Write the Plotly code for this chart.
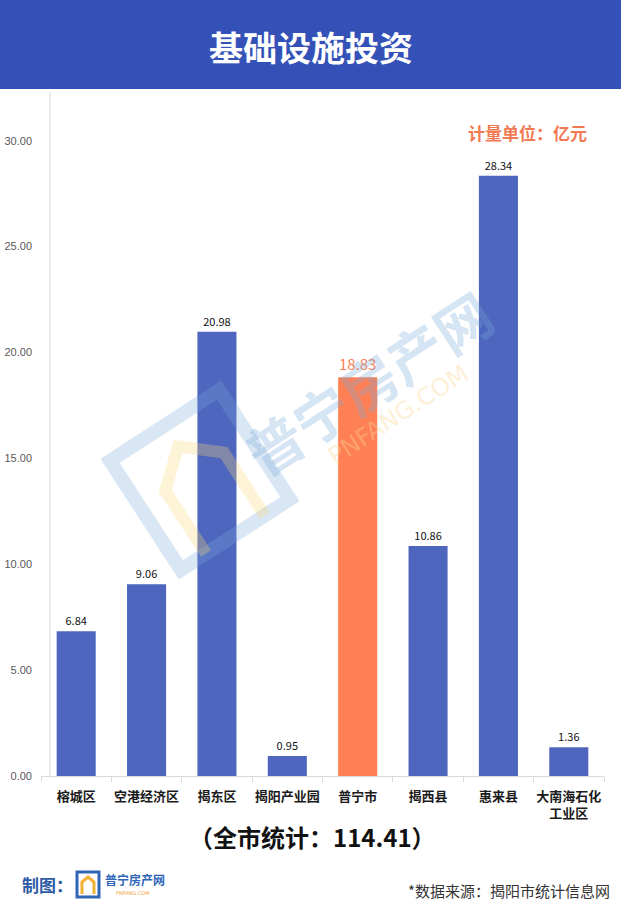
import math
import plotly.graph_objects as go

categories = ["榕城区", "空港经济区", "揭东区", "揭阳产业园", "普宁市", "揭西县", "惠来县", "大南海石化<br>工业区"]
values = [6.84, 9.06, 20.98, 0.95, 18.83, 10.86, 28.34, 1.36]
highlight = "普宁市"
tick_vals = [0, 5, 10, 15, 20, 25, 30]
tick_text = ["0.00", "5.00", "10.00", "15.00", "20.00", "25.00", "30.00"]
title_text = "基础设施投资"
unit_text = "计量单位：亿元"
total_text = "（全市统计：114.41）"
source_text = "*数据来源：揭阳市统计信息网"

BLUE = "#4F66BE"
ORANGE = "#FF8055"
FONT = "Noto Sans CJK SC"

colors = [ORANGE if c == highlight else BLUE for c in categories]
labels = [f"{v:.2f}" for v in values]
text_colors = [ORANGE if c == highlight else "#111111" for c in categories]
text_sizes = [15 if c == highlight else 11 for c in categories]

fig = go.Figure()
fig.add_trace(go.Bar(
    x=categories, y=values, marker_color=colors, marker_line_width=0,
    text=labels, textposition="outside", cliponaxis=False,
    textfont=dict(color=text_colors, size=text_sizes, family=FONT),
    hoverinfo="skip",
))

W, H = 621, 923
L, R, T, B = 41, 17, 92, 147

def px(x):
    return (x - L) / (W - L - R)

def py(y):
    return (H - B - y) / (H - T - B)

fig.update_layout(
    width=W, height=H,
    margin=dict(l=L, r=R, t=T, b=B, autoexpand=False),
    paper_bgcolor="white", plot_bgcolor="white",
    bargap=0.445, showlegend=False,
    font=dict(family=FONT),
    xaxis=dict(
        showgrid=False, showline=True, linecolor="#D9D9D9", linewidth=1,
        ticks="outside", tickson="boundaries", ticklen=5, tickcolor="#D9D9D9",
        tickangle=0, automargin=False, ticklabelstandoff=8,
        tickfont=dict(size=13, color="#1a1a1a", family=FONT, weight=600),
    ),
    yaxis=dict(
        range=[0, 32.3], showgrid=False, zeroline=False, showline=False,
        tickvals=tick_vals, ticktext=tick_text, automargin=False,
        tickfont=dict(size=11, color="#595959", family="Liberation Sans"),
        ticks="", ticklabelstandoff=8,
    ),
)

shapes = []
shapes.append(dict(type="rect", xref="paper", yref="paper", x0=px(0), x1=px(W), y0=py(0), y1=py(89),
                   fillcolor="#3451B8", line_width=0, layer="below"))
shapes.append(dict(type="line", xref="paper", yref="paper", x0=px(50), x1=px(50), y0=py(92), y1=py(776),
                   line=dict(color="#D9D9D9", width=1), layer="below"))

def rot(points, cx, cy, ang):
    a = math.radians(ang)
    out = []
    for x, y in points:
        dx, dy = x - cx, y - cy
        out.append((cx + dx * math.cos(a) - dy * math.sin(a), cy + dx * math.sin(a) + dy * math.cos(a)))
    return out

def path_from(pts, close=True):
    s = "M " + " L ".join(f"{px(x):.4f},{py(y):.4f}" for x, y in pts)
    return s + (" Z" if close else "")

cx, cy, ang = 200, 480, -33
outer = rot([(135, 415), (265, 415), (265, 545), (135, 545)], cx, cy, ang)
shapes.append(dict(type="path", xref="paper", yref="paper", path=path_from(outer),
                   line=dict(color="rgba(120,170,215,0.28)", width=14), fillcolor="rgba(0,0,0,0)", layer="above"))
house = rot([(165, 545), (165, 470), (200, 440), (235, 470), (235, 545)], cx, cy, ang)
shapes.append(dict(type="path", xref="paper", yref="paper", path=path_from(house, close=False),
                   line=dict(color="rgba(250,215,120,0.30)", width=12), fillcolor="rgba(0,0,0,0)", layer="above"))

shapes.append(dict(type="rect", xref="paper", yref="paper", x0=px(77), x1=px(99), y0=py(897), y1=py(872),
                   line=dict(color="#2F66B8", width=3), fillcolor="rgba(0,0,0,0)"))
shapes.append(dict(type="path", xref="paper", yref="paper",
                   path=path_from([(82, 894), (82, 882), (88, 877), (94, 882), (94, 894)], close=False),
                   line=dict(color="#F2B134", width=3), fillcolor="rgba(0,0,0,0)"))
fig.update_layout(shapes=shapes)

ann = []
ann.append(dict(text=f"<b>{title_text}</b>", xref="paper", yref="paper", x=px(W / 2), y=py(46),
                xanchor="center", yanchor="middle", showarrow=False,
                font=dict(size=34, color="white", family=FONT)))
ann.append(dict(text=f"<b>{unit_text}</b>", xref="paper", yref="paper", x=px(589), y=py(132),
                xanchor="right", yanchor="middle", showarrow=False,
                font=dict(size=17, color="#F27A52", family=FONT)))
ann.append(dict(text=f"<b>{total_text}</b>", xref="paper", yref="paper", x=px(312), y=py(836),
                xanchor="center", yanchor="middle", showarrow=False,
                font=dict(size=24, color="#111111", family=FONT)))
ann.append(dict(text="<b>制图：</b>", xref="paper", yref="paper", x=px(20), y=py(884),
                xanchor="left", yanchor="middle", showarrow=False,
                font=dict(size=17, color="#2E5AA6", family=FONT)))
ann.append(dict(text="<b>普宁房产网</b>", xref="paper", yref="paper", x=px(103), y=py(879),
                xanchor="left", yanchor="middle", showarrow=False,
                font=dict(size=12, color="#2F66B8", family=FONT)))
ann.append(dict(text="PNFANG.COM", xref="paper", yref="paper", x=px(133), y=py(893),
                xanchor="center", yanchor="middle", showarrow=False,
                font=dict(size=5, color="#F2A640", family="DejaVu Sans")))
ann.append(dict(text=source_text, xref="paper", yref="paper", x=px(612), y=py(891),
                xanchor="right", yanchor="middle", showarrow=False,
                font=dict(size=15, color="#333333", family=FONT)))
ann.append(dict(text="<b>普宁房产网</b>", xref="paper", yref="paper", x=px(368), y=py(382),
                xanchor="center", yanchor="middle", showarrow=False, textangle=-33,
                font=dict(size=56, color="rgba(120,170,215,0.30)", family=FONT)))
ann.append(dict(text="PNFANG.COM", xref="paper", yref="paper", x=px(398), y=py(415),
                xanchor="center", yanchor="middle", showarrow=False, textangle=-33,
                font=dict(size=24, color="rgba(250,215,150,0.40)", family="DejaVu Sans")))
fig.update_layout(annotations=ann)

fig.write_html("out.html", config={"displayModeBar": False},
               post_script="document.body.style.margin='0';document.body.style.overflow='hidden';")
